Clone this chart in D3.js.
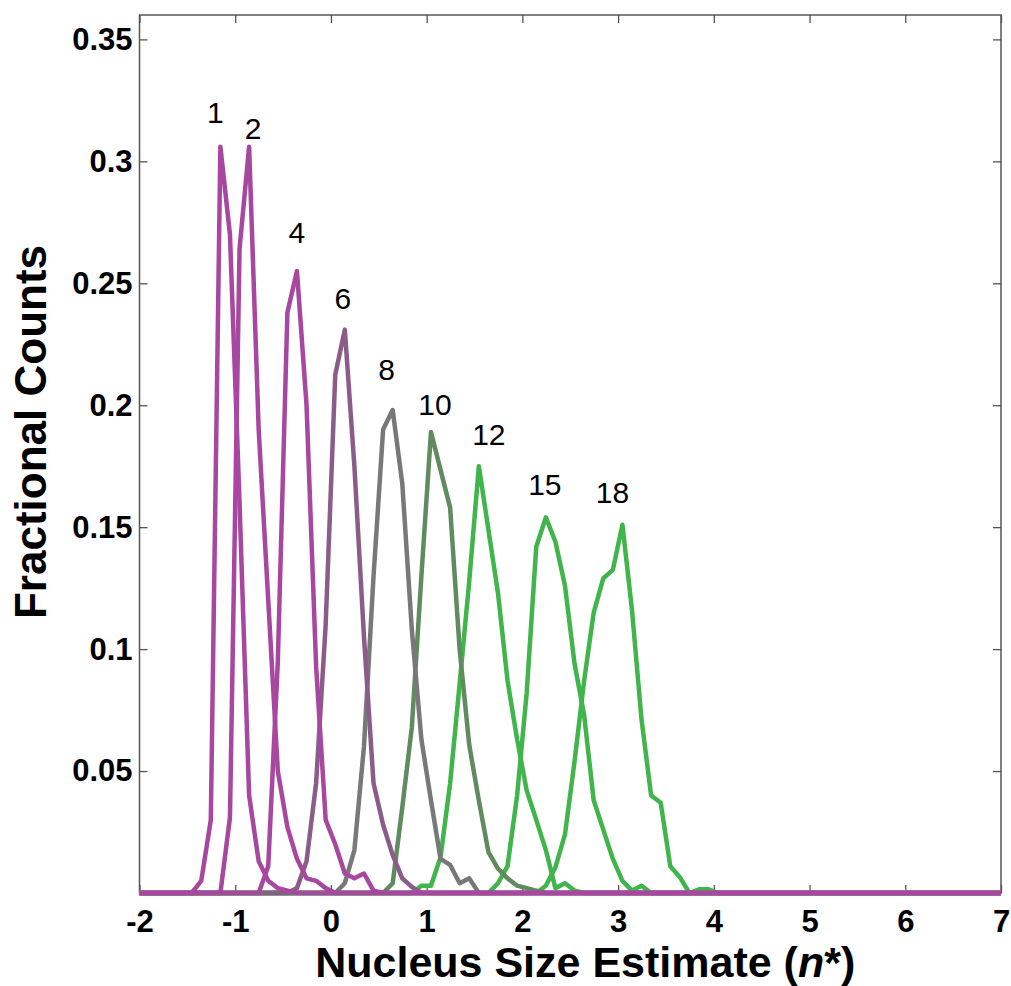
<!DOCTYPE html>
<html>
<head>
<meta charset="utf-8">
<script src="https://cdn.jsdelivr.net/npm/d3@7"></script>
<style>
  body { margin: 0; background: #fff; }
  svg { display: block; }
</style>
</head>
<body>
<svg id="chart" width="1011" height="986"></svg>
<script>
// histogram bins are 0.1 wide, first value sits at binStart
const binWidth = 0.1;

const sizes = [1, 2, 4, 6, 8, 10, 12, 15, 18];
const binStart = [-1.455, -1.155, -0.755, -0.455, 0.045, 0.545, 0.845, 1.645, 2.145];

const counts1 = [0, 0.005, 0.03, 0.306, 0.27, 0.16, 0.04, 0.013, 0.005, 0.002, 0.001, 0];
const counts2 = [0, 0.031, 0.264, 0.306, 0.19, 0.12, 0.05, 0.027, 0.014, 0.006, 0.005, 0.002, 0];
const counts4 = [0, 0.011, 0.095, 0.238, 0.255, 0.20, 0.093, 0.03, 0.02, 0.008, 0.006, 0.008, 0.001, 0];
const counts6 = [0, 0.002, 0.013, 0.045, 0.11, 0.2125, 0.231, 0.175, 0.105, 0.045, 0.028, 0.0155, 0.006, 0.0025, 0];
const counts8 = [0, 0.004, 0.0176, 0.06, 0.13, 0.19, 0.198, 0.168, 0.108, 0.063, 0.038, 0.014, 0.0115, 0.004, 0.006, 0];
const counts10 = [0, 0.004, 0.035, 0.068, 0.13, 0.189, 0.1735, 0.158, 0.0996, 0.0606, 0.038, 0.0168, 0.010, 0.006, 0.003, 0.002, 0.001, 0];
const counts12 = [0, 0.003, 0.003, 0.0147, 0.045, 0.086, 0.128, 0.175, 0.149, 0.123, 0.087, 0.063, 0.042, 0.030, 0.0176, 0.002, 0.004, 0.001, 0];
const counts15 = [0, 0.004, 0.011, 0.040, 0.082, 0.142, 0.154, 0.144, 0.126, 0.094, 0.073, 0.038, 0.026, 0.014, 0.005, 0.001, 0.003, 0];
const counts18 = [0, 0.003, 0.0105, 0.024, 0.054, 0.087, 0.115, 0.129, 0.1325, 0.151, 0.116, 0.071, 0.04, 0.037, 0.011, 0.0065, 0, 0.0015, 0.0015, 0];

const allCounts = [counts1, counts2, counts4, counts6, counts8, counts10, counts12, counts15, counts18];

const xTicks = [-2, -1, 0, 1, 2, 3, 4, 5, 6, 7];
const yTicks = [0.05, 0.1, 0.15, 0.2, 0.25, 0.3, 0.35];

// colours run magenta -> grey -> green
const lineColors = ["#a8479f", "#a8479f", "#a8479f", "#8c5c89", "#787878", "#5f8b5f", "#40b54b", "#40b54b", "#40b54b"];
// label nudges in px relative to the peak
const labelDx = [-5, 4, 0, -2, -6, 4, 10, -1, -10];
const labelDy = [-24, -8, -28, -21, -30, -17, -21, -22, -22];

const svg = d3.select("#chart");
const margin = { left: 139.5, right: 10, top: 15, bottom: 93 };
const width = 1011 - margin.left - margin.right;
const height = 986 - margin.top - margin.bottom;

const g = svg.append("g").attr("transform", `translate(${margin.left},${margin.top})`);

const x = d3.scaleLinear().domain([-2, 7]).range([0, width]);
const y = d3.scaleLinear().domain([0, 0.36]).range([height, 0]);

// build series: flat zero from the left edge, the bins, then flat zero to the right edge
const series = sizes.map((n, i) => {
  const pts = [{ x: -2, v: 0 }];
  allCounts[i].forEach((v, j) => pts.push({ x: binStart[i] + j * binWidth, v: v }));
  pts.push({ x: 7, v: 0 });
  return { n: n, pts: pts, color: lineColors[i], i: i };
});

const tickColor = "#555";
const fontFamily = "'Liberation Sans', Arial, sans-serif";

// axes with inward ticks
const xAxis = d3.axisBottom(x).tickValues(xTicks).tickSizeInner(-8).tickSizeOuter(0).tickPadding(17).tickFormat(d => String(d));
const xAxisTop = d3.axisTop(x).tickValues(xTicks).tickSizeInner(-8).tickSizeOuter(0).tickFormat("");
const yAxis = d3.axisLeft(y).tickValues(yTicks).tickSizeInner(-8).tickSizeOuter(0).tickPadding(7).tickFormat(d => String(+d.toFixed(2)));
const yAxisRight = d3.axisRight(y).tickValues(yTicks).tickSizeInner(-8).tickSizeOuter(0).tickFormat("");

function styleAxis(sel) {
  sel.select(".domain").remove();
  sel.selectAll(".tick line").attr("stroke", tickColor).attr("stroke-width", 1.3);
  sel.selectAll(".tick text")
    .attr("fill", "#000")
    .style("font-family", fontFamily)
    .style("font-weight", "bold")
    .style("font-size", "31px");
}

g.append("g").attr("transform", `translate(0,${height})`).call(xAxis).call(styleAxis);
g.append("g").call(xAxisTop).call(styleAxis);
g.append("g").call(yAxis).call(styleAxis);
g.append("g").attr("transform", `translate(${width},0)`).call(yAxisRight).call(styleAxis);

// frame
g.append("rect")
  .attr("x", 0).attr("y", 0)
  .attr("width", width).attr("height", height)
  .attr("fill", "none")
  .attr("stroke", tickColor)
  .attr("stroke-width", 1.5);

const line = d3.line().x(d => x(d.x)).y(d => y(d.v));

// draw last series first so size 1 ends up on top
g.selectAll(".series")
  .data(series.slice().reverse())
  .join("path")
  .attr("class", "series")
  .attr("d", d => line(d.pts))
  .attr("fill", "none")
  .attr("stroke", d => d.color)
  .attr("stroke-width", 4.5)
  .attr("stroke-linejoin", "round");

// size labels above each peak
g.selectAll(".peak-label")
  .data(series)
  .join("text")
  .attr("class", "peak-label")
  .attr("x", d => {
    const top = d3.greatest(d.pts, p => p.v);
    return x(top.x) + labelDx[d.i];
  })
  .attr("y", d => {
    const top = d3.greatest(d.pts, p => p.v);
    return y(top.v) + labelDy[d.i];
  })
  .attr("text-anchor", "middle")
  .style("font-family", fontFamily)
  .style("font-size", "30px")
  .text(d => d.n);

// axis titles
svg.append("text")
  .attr("x", margin.left + width / 2 + 15)
  .attr("y", 977)
  .attr("text-anchor", "middle")
  .style("font-family", fontFamily)
  .style("font-weight", "bold")
  .style("font-size", "43px")
  .call(t => {
    t.append("tspan").text("Nucleus Size Estimate (");
    t.append("tspan").style("font-style", "italic").text("n");
    t.append("tspan").text("*)");
  });

svg.append("text")
  .attr("transform", "translate(46,432) rotate(-90)")
  .attr("text-anchor", "middle")
  .style("font-family", fontFamily)
  .style("font-weight", "bold")
  .style("font-size", "44px")
  .text("Fractional Counts");
</script>
</body>
</html>
